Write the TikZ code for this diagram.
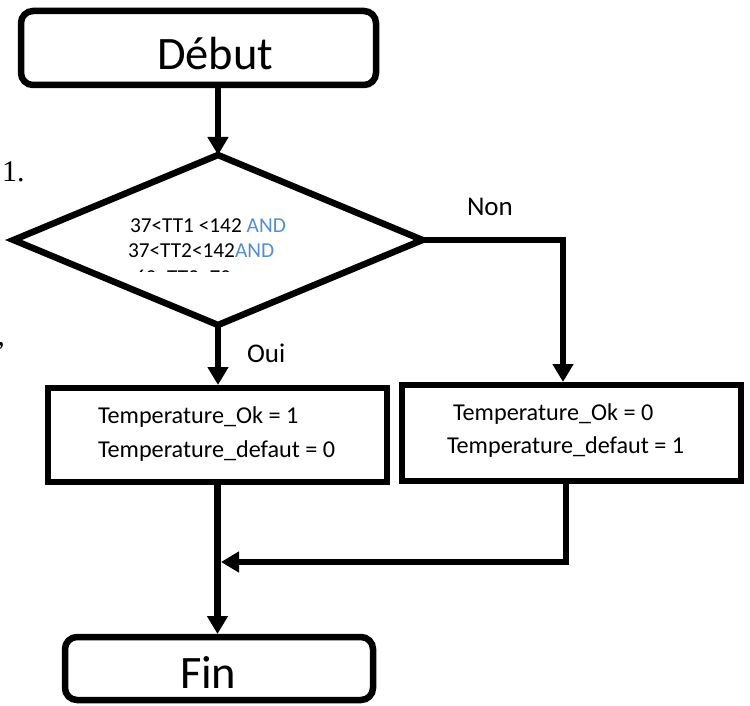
\documentclass[tikz,border=0pt]{standalone}
\usepackage{fontspec}
\setmainfont{Carlito}
\newfontfamily\numserif{Liberation Serif}
\usetikzlibrary{arrows.meta,shapes.geometric}
\definecolor{andblue}{RGB}{84,141,212}

\begin{document}
\begin{tikzpicture}[x=1pt,y=-1pt,
  every node/.style={inner sep=0pt, outer sep=0pt},
  box/.style={draw, line width=6.5pt, rectangle},
  term/.style={box, rounded corners=12pt},
  decision/.style={draw, line width=6.5pt, diamond},
  bigtxt/.style={anchor=base west, font=\fontsize{46.5}{56}\selectfont},
  celltxt/.style={anchor=base west, font=\fontsize{24.2}{29}\selectfont},
  condtxt/.style={anchor=base west, font=\fontsize{21.3}{25}\selectfont},
  lbltxt/.style={anchor=base west, font=\fontsize{27}{32}\selectfont},
  flow/.style={line width=6.5pt, -{Triangle[length=18pt,width=20pt]}}]
\useasboundingbox (0,0) rectangle (750,706);

% stray marks on the left margin
\node[anchor=base west, font=\numserif\fontsize{30}{36}\selectfont] (num) at (2,182) {1.};
\node[anchor=base east, font=\numserif\fontsize{30}{36}\selectfont] (comma) at (5,345) {,};

% start / end terminals
\node[term, minimum width=355pt, minimum height=74pt] (debut) at (198.5,48) {};
\node[bigtxt] (debuttxt) at (157,70) {Début};
\node[term, minimum width=308pt, minimum height=63pt] (fin) at (219,668.5) {};
\node[bigtxt] (fintxt) at (180,688) {Fin};

% decision
\node[decision, minimum width=409pt, minimum height=170pt] (dia) at (218,240) {};
\node[condtxt] (c1) at (130,232) {37<TT1 <142 \textcolor{andblue}{AND}};
\node[condtxt] (c2) at (128,257) {37<TT2<142\textcolor{andblue}{AND}};
\begin{scope}
  \clip (100,268.5) rectangle (320,271.5);
  \node[condtxt] (c3) at (135,284) {60<TT3<70};
\end{scope}

% action boxes
\node[box, minimum width=339pt, minimum height=94pt] (ok) at (217.5,435) {};
\node[celltxt] (ok1) at (98,423) {Temperature\_Ok = 1};
\node[celltxt] (ok2) at (98,457) {Temperature\_defaut = 0};
\node[box, minimum width=339pt, minimum height=96pt] (ko) at (571.5,433) {};
\node[celltxt] (ko1) at (453,420) {Temperature\_Ok = 0};
\node[celltxt] (ko2) at (447,453) {Temperature\_defaut = 1};

% branch labels
\node[lbltxt] (non) at (467,215) {Non};
\node[lbltxt] (oui) at (247,362) {Oui};

% connectors
\coordinate (nonturn) at (563,240);
\coordinate (kodrop) at (566,562);
\coordinate (join) at (218,562);

\draw[flow] (dia.north |- debut.south) -- (dia.north);
\draw[flow, shorten >=3pt] (dia.south) -- (dia.south |- ok.north);
\draw[flow, shorten >=3pt] (dia.east) -- (nonturn) -- (nonturn |- ko.north);
\draw[flow, shorten >=3pt] (ok.south) -- (ok.south |- fin.north);
\draw[flow, shorten >=3pt] (kodrop |- ko.south) -- (kodrop) -- (join);
\end{tikzpicture}
\end{document}
